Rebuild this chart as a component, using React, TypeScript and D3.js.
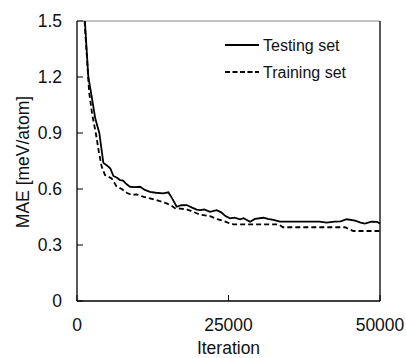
import React from "react";
import * as d3 from "d3";

const testIter = [1300, 1870, 2400, 3000, 3680, 4350, 5000, 5500, 6000, 6600, 7100, 7600, 8200, 8750, 9500, 10400, 11200, 12050, 13000, 14250, 15070, 15700, 16450, 17200, 18100, 19000, 19750, 20300, 21000, 21950, 23050, 23800, 24500, 25250, 26000, 26900, 27500, 28550, 29370, 30750, 31500, 32400, 33500, 37000, 40000, 41200, 42500, 43500, 44500, 45900, 46800, 47500, 48600, 49500, 50000];
const testMAE = [1.5, 1.2, 1.1, 0.98, 0.9, 0.74, 0.725, 0.71, 0.67, 0.66, 0.648, 0.645, 0.625, 0.612, 0.61, 0.612, 0.595, 0.585, 0.58, 0.577, 0.582, 0.55, 0.505, 0.513, 0.514, 0.5, 0.49, 0.487, 0.49, 0.478, 0.487, 0.475, 0.455, 0.443, 0.447, 0.438, 0.444, 0.425, 0.44, 0.446, 0.44, 0.434, 0.425, 0.425, 0.425, 0.42, 0.425, 0.427, 0.438, 0.43, 0.42, 0.415, 0.425, 0.424, 0.415];

const trainIter = [1250, 2000, 2500, 3100, 3600, 4070, 4620, 5720, 6500, 7380, 8200, 9020, 9850, 11000, 12050, 13500, 14800, 15500, 16170, 17000, 18100, 19000, 19750, 20300, 21950, 23000, 24150, 25000, 25800, 33200, 34000, 37900, 44200, 45600, 50000];
const trainMAE = [1.5, 1.12, 1.0, 0.9, 0.8, 0.72, 0.675, 0.657, 0.615, 0.6, 0.58, 0.568, 0.571, 0.558, 0.55, 0.537, 0.523, 0.512, 0.497, 0.495, 0.491, 0.48, 0.47, 0.462, 0.455, 0.44, 0.429, 0.418, 0.411, 0.411, 0.395, 0.395, 0.395, 0.375, 0.375];

const xTicks = [0, 25000, 50000];
const yTicks = [0, 0.3, 0.6, 0.9, 1.2, 1.5];
const seriesNames = ["Testing set", "Training set"];

const W = 406, H = 358;
const L = 77, R = 380, T = 21, B = 301;
const FONT = "'Liberation Sans', Arial, sans-serif";

export default function App() {
  const x = d3.scaleLinear().domain([0, 50000]).range([L, R]);
  const y = d3.scaleLinear().domain([0, 1.5]).range([B, T]);
  const line = d3.line<[number, number]>().x(d => x(d[0])).y(d => y(d[1]));
  const testPts = testIter.map((v, i) => [v, testMAE[i]] as [number, number]);
  const trainPts = trainIter.map((v, i) => [v, trainMAE[i]] as [number, number]);
  const yFmt = (v: number) => (v === 0 ? "0" : v.toFixed(1));

  return (
    <svg width={W} height={H} style={{ position: "absolute", left: 0, top: 0, background: "#fff" }} fontFamily={FONT}>
      <rect x={0} y={0} width={W} height={H} fill="#fff" />
      {/* frame */}
      <line x1={L} x2={R} y1={T} y2={T} stroke="#888" strokeWidth={1.2} />
      <line x1={R} x2={R} y1={T} y2={B} stroke="#000" strokeWidth={1.3} />
      <line x1={L} x2={L} y1={T} y2={B} stroke="#000" strokeWidth={1.3} />
      <line x1={L} x2={R} y1={B} y2={B} stroke="#000" strokeWidth={1.3} />
      {/* y ticks */}
      {yTicks.map(t => (
        <g key={"y" + t}>
          <line x1={L} x2={L + 6} y1={y(t)} y2={y(t)} stroke="#000" strokeWidth={1} />
          <text x={62} y={y(t)} dy="0.36em" textAnchor="end" fontSize={17.5} fill="#111">{yFmt(t)}</text>
        </g>
      ))}
      {/* x ticks */}
      {xTicks.map(t => (
        <g key={"x" + t}>
          <line x1={x(t)} x2={x(t)} y1={B} y2={B - 6} stroke="#000" strokeWidth={1} />
          <text x={x(t)} y={331} textAnchor="middle" fontSize={17.5} fill="#111">{t}</text>
        </g>
      ))}
      <text x={(L + R) / 2} y={354} textAnchor="middle" fontSize={17.5} fill="#111">Iteration</text>
      <text transform={`translate(29,${(T + B) / 2 + 1}) rotate(-90)`} textAnchor="middle" fontSize={17.5} fill="#111">MAE [meV/atom]</text>
      {/* series */}
      <path d={line(trainPts) || ""} fill="none" stroke="#000" strokeWidth={1.8} strokeDasharray="5,3" />
      <path d={line(testPts) || ""} fill="none" stroke="#000" strokeWidth={1.8} />
      {/* legend */}
      <line x1={225} x2={259} y1={45} y2={45} stroke="#000" strokeWidth={1.8} />
      <text x={263} y={51} fontSize={16} fill="#111">{seriesNames[0]}</text>
      <line x1={225} x2={259} y1={72} y2={72} stroke="#000" strokeWidth={1.8} strokeDasharray="5,2.5" />
      <text x={263} y={78} fontSize={16} fill="#111">{seriesNames[1]}</text>
    </svg>
  );
}
